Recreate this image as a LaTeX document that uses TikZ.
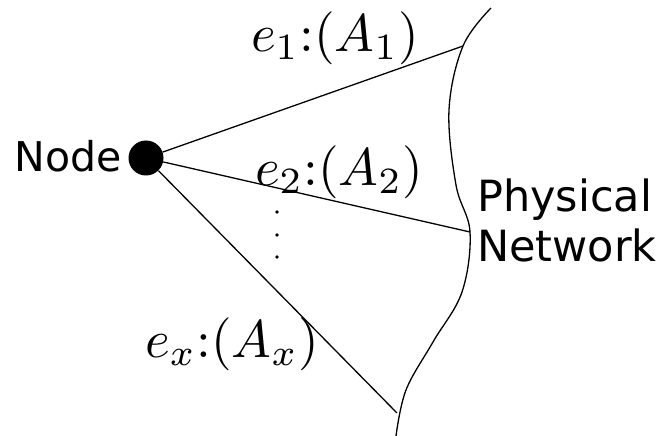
\documentclass[tikz,border=0pt]{standalone}
\usepackage{fontspec}
\setsansfont{DejaVu Sans}
\begin{document}
\begin{tikzpicture}[x=1pt,y=-1pt,
  edge/.style={line width=1.3pt},
  lbl/.style={scale=5.3, inner sep=0pt},
  txt/.style={font=\sffamily\fontsize{41}{50}\selectfont, inner sep=0pt, align=left}]
\useasboundingbox (0,0) rectangle (657,436);
\node[circle, fill=black, minimum size=35pt, inner sep=0pt] (n) at (146,158) {};
\node[txt, anchor=east] (nl) at (122,156) {Node};
\coordinate (p1) at (463,46);
\coordinate (p2) at (470,232);
\coordinate (p3) at (397,413);
\draw[edge] plot[smooth, tension=0.6] coordinates {(491,8) (463,46) (449,110) (456,185) (470,232) (462,292) (433,342) (406,390) (396,436)};
\draw[edge] (n) -- (p1);
\draw[edge] (n) -- (p2);
\draw[edge] (n) -- (p3);
\node[lbl] (l1) at (335,38) {$e_1{:}(A_1)$};
\node[lbl] (l2) at (339,172) {$e_2{:}(A_2)$};
\node[lbl] (l3) at (232,344) {$e_x{:}(A_x)$};
\node[txt, anchor=west, font=\sffamily\fontsize{43}{50}\selectfont] (pn) at (477,220) {Physical\\Network};
\foreach \y in {212,235,257} \fill (277,\y) circle (1.8pt);
\end{tikzpicture}
\end{document}
